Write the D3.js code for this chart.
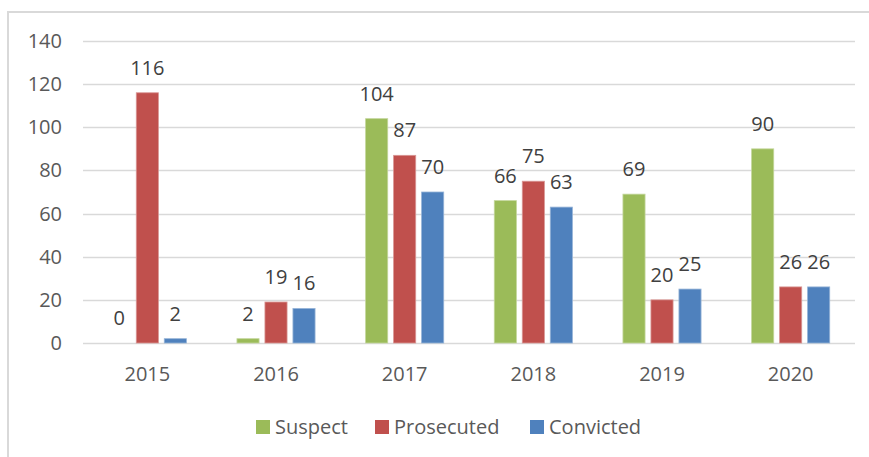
<!DOCTYPE html>
<html>
<head>
<meta charset="utf-8">
<script src="https://cdn.jsdelivr.net/npm/d3@7"></script>
<style>
  body { margin: 0; background: #fff; }
  svg { display: block; font-family: "Open Sans", sans-serif; }
</style>
</head>
<body>
<div id="chart"></div>
<script>
const WIDTH = 869
const HEIGHT = 457

// data
const years = ["2015", "2016", "2017", "2018", "2019", "2020"]
const seriesNames = ["Suspect", "Prosecuted", "Convicted"]
const suspect = [0, 2, 104, 66, 69, 90]
const prosecuted = [116, 19, 87, 75, 20, 26]
const convicted = [2, 16, 70, 63, 25, 26]
const yTicks = [0, 20, 40, 60, 80, 100, 120, 140]

const colors = ["#9bbb59", "#c0504d", "#4f81bd"]
const strokes = ["#c3d69b", "#d99694", "#95b3d7"]

var plot = {left: 83, right: 855, top: 41, bottom: 343}
var fontSize = "20px"

var svg = d3.select("#chart")
  .append("svg")
  .attr("width", WIDTH)
  .attr("height", HEIGHT)

// outer frame (only top and left show in the picture)
svg.append("rect")
  .attr("x", 8)
  .attr("y", 12)
  .attr("width", 900)
  .attr("height", 500)
  .attr("fill", "none")
  .attr("stroke", "#d9d9d9")
  .attr("stroke-width", 2)

var y = d3.scaleLinear()
  .domain([0, 140])
  .range([plot.bottom, plot.top])

var x0 = d3.scaleBand()
  .domain(years)
  .range([plot.left, plot.right])

var x1 = d3.scaleBand()
  .domain(seriesNames)
  .range([-42, 42])
  .paddingInner(0.21)
  .paddingOuter(0.105)

// gridlines
svg.append("g")
  .selectAll("line")
  .data(yTicks)
  .enter()
  .append("line")
  .attr("x1", plot.left)
  .attr("x2", plot.right)
  .attr("y1", d => Math.round(y(d)) + 0.5)
  .attr("y2", d => Math.round(y(d)) + 0.5)
  .attr("stroke", "#d9d9d9")
  .attr("stroke-width", 1.3)

// y axis labels
svg.append("g")
  .selectAll("text")
  .data(yTicks)
  .enter()
  .append("text")
  .attr("x", 62)
  .attr("y", d => y(d))
  .attr("dy", "0.35em")
  .attr("text-anchor", "end")
  .attr("fill", "#595959")
  .style("font-size", fontSize)
  .text(d => d)

// x axis labels
svg.append("g")
  .selectAll("text")
  .data(years)
  .enter()
  .append("text")
  .attr("x", d => x0(d) + x0.bandwidth() / 2)
  .attr("y", 374)
  .attr("dy", "0.35em")
  .attr("text-anchor", "middle")
  .attr("fill", "#595959")
  .style("font-size", fontSize)
  .text(d => d)

var allSeries = [suspect, prosecuted, convicted]

allSeries.forEach(function(values, s) {
  var name = seriesNames[s]
  var g = svg.append("g")

  g.selectAll("rect")
    .data(values)
    .enter()
    .append("rect")
    .attr("x", (d, i) => x0(years[i]) + x0.bandwidth() / 2 + x1(name))
    .attr("y", d => y(d))
    .attr("width", x1.bandwidth())
    .attr("height", d => y(0) - y(d))
    .attr("fill", colors[s])
    .attr("stroke", d => d > 0 ? strokes[s] : "none")
    .attr("stroke-width", 0.8)

  // data labels
  g.selectAll("text")
    .data(values)
    .enter()
    .append("text")
    .attr("x", (d, i) => x0(years[i]) + x0.bandwidth() / 2 + x1(name) + x1.bandwidth() / 2)
    .attr("y", d => y(d) - 25)
    .attr("dy", "0.35em")
    .attr("text-anchor", "middle")
    .attr("fill", "#404040")
    .style("font-size", fontSize)
    .text(d => d)
})

// legend
var legendX = [256, 375, 530]
var legend = svg.append("g")
seriesNames.forEach(function(name, s) {
  legend.append("rect")
    .attr("x", legendX[s])
    .attr("y", 420)
    .attr("width", 14)
    .attr("height", 14)
    .attr("fill", colors[s])
  legend.append("text")
    .attr("x", legendX[s] + 19)
    .attr("y", 427)
    .attr("dy", "0.35em")
    .attr("fill", "#595959")
    .style("font-size", fontSize)
    .text(name)
})
</script>
</body>
</html>
